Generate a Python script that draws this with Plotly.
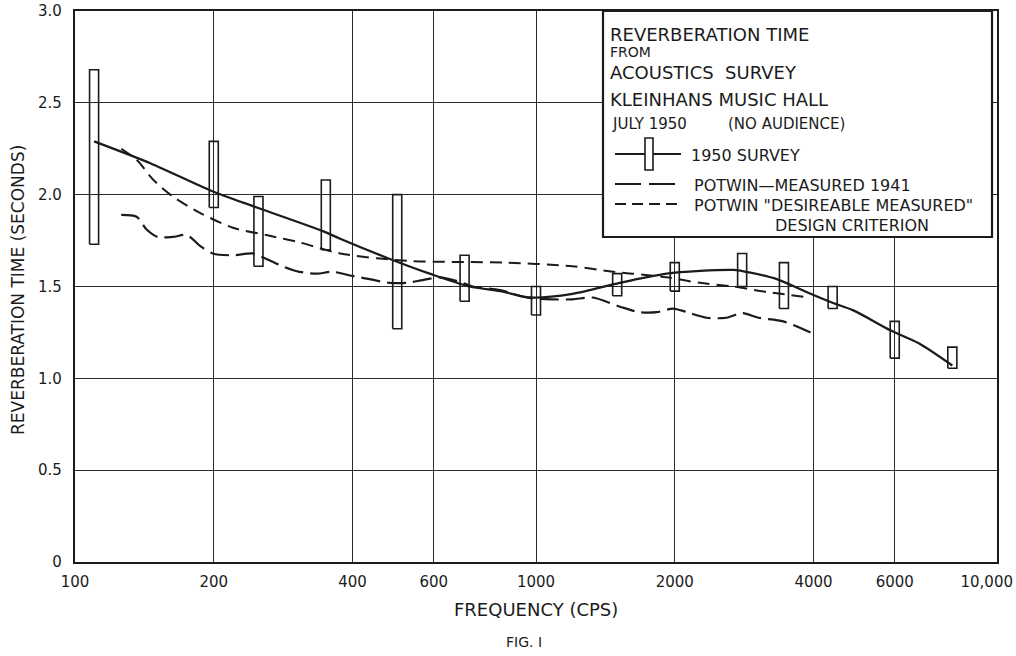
import numpy as np
import plotly.graph_objects as go

# ---------------- data ----------------
# 1950 survey: measured ranges (boxes)
survey_freq = [110, 200, 250, 350, 500, 700, 1000, 1500, 2000, 2800, 3450, 4400, 6000, 8000]
survey_low = [1.73, 1.93, 1.61, 1.70, 1.27, 1.42, 1.345, 1.45, 1.475, 1.50, 1.38, 1.38, 1.11, 1.055]
survey_high = [2.68, 2.29, 1.99, 2.08, 2.00, 1.67, 1.50, 1.57, 1.63, 1.68, 1.63, 1.50, 1.31, 1.17]

# 1950 survey: faired curve
survey_curve_freq = [110, 146, 198, 248, 346, 376, 482, 588, 718, 836, 970, 1200, 1520,
                     1920, 2270, 2680, 2920, 3330, 3860, 4410, 4880, 5890, 6780, 8000]
survey_curve_val = [2.29, 2.17, 2.02, 1.93, 1.80, 1.76, 1.65, 1.57, 1.50, 1.475, 1.44, 1.46, 1.52,
                    1.57, 1.585, 1.59, 1.575, 1.54, 1.47, 1.41, 1.37, 1.26, 1.19, 1.07]

# Potwin - measured 1941
potwin_freq = [126, 136, 143, 151, 163, 175, 187, 199, 220, 243, 260, 282, 307, 335, 362, 395,
               415, 482, 524, 568, 618, 673, 729, 836, 954, 1088, 1200, 1327, 1521, 1677, 1829,
               1983, 2126, 2347, 2589, 2804, 3040, 3439, 3940]
potwin_val = [1.89, 1.88, 1.81, 1.77, 1.77, 1.78, 1.72, 1.68, 1.67, 1.68, 1.65, 1.61, 1.58, 1.57,
              1.58, 1.56, 1.55, 1.52, 1.52, 1.535, 1.55, 1.53, 1.50, 1.48, 1.44, 1.43, 1.43, 1.44,
              1.39, 1.36, 1.36, 1.38, 1.36, 1.33, 1.33, 1.355, 1.33, 1.31, 1.25]

# Potwin "desireable measured" design criterion
design_freq = [126, 136, 148, 163, 187, 220, 260, 307, 376, 524, 865, 1200, 1469, 1620, 1919,
               2266, 2676, 3166, 3940]
design_val = [2.25, 2.19, 2.08, 1.99, 1.90, 1.82, 1.78, 1.74, 1.68, 1.64, 1.63, 1.61, 1.58, 1.57,
              1.55, 1.52, 1.50, 1.47, 1.44]

x_tick_vals = [100, 200, 400, 600, 1000, 2000, 4000, 6000]
x_tick_text = ["100", "200", "400", "600", "1000", "2000", "4000", "6000"]
x_end_tick_vals = [10000]
x_end_tick_text = ["10,000"]
y_tick_vals = [0, 0.5, 1.0, 1.5, 2.0, 2.5, 3.0]
y_tick_text = ["0", "0.5", "1.0", "1.5", "2.0", "2.5", "3.0"]

# ---------------- styling ----------------
INK = "#1b1b1b"
FONT = "DejaVu Sans"
BOX_HALF = 0.0098  # half box width, in decades

W, H = 1016, 656
L, R, T, B = 75, 19, 11, 94
PW, PH = W - L - R, H - T - B


def px(x):
    return (x - L) / PW


def py(y):
    return (H - B - y) / PH


# box outlines built from the survey arrays
bx, by = [], []
for f, lo, hi in zip(survey_freq, survey_low, survey_high):
    f0, f1 = f * 10 ** (-BOX_HALF), f * 10 ** BOX_HALF
    bx += [f0, f1, f1, f0, f0, None]
    by += [lo, lo, hi, hi, lo, None]

fig = go.Figure()
fig.add_trace(go.Scatter(x=potwin_freq, y=potwin_val, mode="lines",
                         line=dict(color=INK, width=2.2, dash="19px,7px", shape="spline", smoothing=0.8),
                         name="POTWIN-MEASURED 1941"))
fig.add_trace(go.Scatter(x=design_freq, y=design_val, mode="lines",
                         line=dict(color=INK, width=2.0, dash="12px,7px", shape="spline", smoothing=0.8),
                         name="DESIGN CRITERION"))
fig.add_trace(go.Scatter(x=survey_curve_freq, y=survey_curve_val, mode="lines",
                         line=dict(color=INK, width=2.3, shape="spline", smoothing=0.8),
                         name="1950 SURVEY"))
fig.add_trace(go.Scatter(x=bx, y=by, mode="lines", line=dict(color=INK, width=1.6),
                         xaxis="x2", name="1950 SURVEY RANGE"))

shapes = []
# legend box
shapes.append(dict(type="rect", xref="paper", yref="paper", x0=px(603), x1=px(992), y0=py(237), y1=1.0,
                   fillcolor="white", line=dict(color=INK, width=2.2), layer="above"))
# legend samples
shapes.append(dict(type="line", xref="paper", yref="paper", x0=px(615), x1=px(681), y0=py(154), y1=py(154),
                   line=dict(color=INK, width=2), layer="above"))
shapes.append(dict(type="rect", xref="paper", yref="paper", x0=px(645), x1=px(653), y0=py(170), y1=py(138),
                   fillcolor="white", line=dict(color=INK, width=1.6), layer="above"))
shapes.append(dict(type="line", xref="paper", yref="paper", x0=px(615), x1=px(681), y0=py(184), y1=py(184),
                   line=dict(color=INK, width=2, dash="26px,8px"), layer="above"))
shapes.append(dict(type="line", xref="paper", yref="paper", x0=px(615), x1=px(681), y0=py(204), y1=py(204),
                   line=dict(color=INK, width=2, dash="11px,6px"), layer="above"))

ann = []


def text(s, x, y, size, xanchor="left", angle=0):
    ann.append(dict(text=s, x=px(x), y=py(y), xref="paper", yref="paper", showarrow=False,
                    xanchor=xanchor, yanchor="middle", textangle=angle,
                    font=dict(family=FONT, size=size, color=INK)))


text("REVERBERATION TIME", 608, 34, 18)
text("FROM", 608, 52, 14)
text("ACOUSTICS  SURVEY", 608, 72, 18)
text("KLEINHANS MUSIC HALL", 608, 100, 18)
text("JULY 1950", 610, 124, 15)
text("(NO AUDIENCE)", 726, 124, 15)
text("1950 SURVEY", 689, 155, 16)
text("POTWIN\u2014MEASURED 1941", 692, 185, 16)
text("POTWIN \"DESIREABLE MEASURED\"", 692, 206, 16)
text("DESIGN CRITERION", 773, 225, 16)
text("REVERBERATION TIME (SECONDS)", 18, 290, 17, xanchor="center", angle=-90)
text("FREQUENCY (CPS)", 536, 609, 18, xanchor="center")
text("FIG. I", 524, 642, 14, xanchor="center")

fig.update_layout(
    width=W, height=H,
    margin=dict(l=L, r=R, t=T, b=B, autoexpand=False),
    paper_bgcolor="white", plot_bgcolor="white",
    showlegend=False,
    shapes=shapes, annotations=ann,
    font=dict(family=FONT, color=INK),
    xaxis=dict(type="log", range=[2, 4], tickvals=x_tick_vals, ticktext=x_tick_text,
               showgrid=True, gridcolor="#2a2a2a", gridwidth=1.2, zeroline=False,
               showline=True, mirror=True, linecolor=INK, linewidth=2.4, automargin=False,
               ticks="", ticklabelstandoff=5,
               tickfont=dict(family=FONT, size=15, color=INK)),
    xaxis2=dict(type="log", range=[2, 4], overlaying="x", anchor="y", side="bottom",
                tickvals=x_end_tick_vals, ticktext=x_end_tick_text,
                showgrid=False, showline=False, zeroline=False, ticks="",
                ticklabelposition="outside left", ticklabelshift=16, ticklabelstandoff=9,
                automargin=False, tickfont=dict(family=FONT, size=15, color=INK)),
    yaxis=dict(range=[0, 3], tickvals=y_tick_vals, ticktext=y_tick_text,
               showgrid=True, gridcolor="#2a2a2a", gridwidth=1.2, zeroline=False,
               showline=True, mirror=True, linecolor=INK, linewidth=2.4, automargin=False,
               ticks="", ticklabelstandoff=8, tickfont=dict(family=FONT, size=15, color=INK)),
)

fig.write_html("out.html", config={"displayModeBar": False},
               post_script="document.body.style.margin='0';document.body.style.overflow='hidden';")
